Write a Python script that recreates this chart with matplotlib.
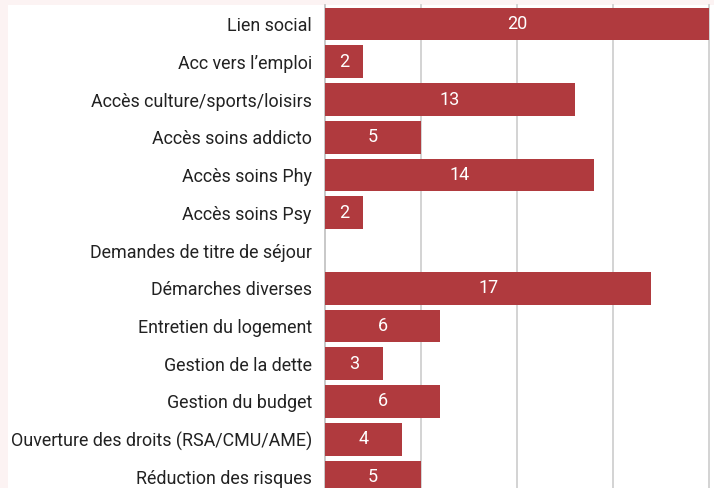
import matplotlib
matplotlib.use("Agg")
import matplotlib.pyplot as plt

categories = [
    "Lien social",
    "Acc vers l\u2019emploi",
    "Accès culture/sports/loisirs",
    "Accès soins addicto",
    "Accès soins Phy",
    "Accès soins Psy",
    "Demandes de titre de séjour",
    "Démarches diverses",
    "Entretien du logement",
    "Gestion de la dette",
    "Gestion du budget",
    "Ouverture des droits (RSA/CMU/AME)",
    "Réduction des risques",
]
counts = [20, 2, 13, 5, 14, 2, 0, 17, 6, 3, 6, 4, 5]
grid_ticks = [0, 5, 10, 15, 20]

bar_color = "#B03A3E"
edge_color = "#FCF3F3"

plt.rcParams["font.family"] = ["Roboto", "DejaVu Sans"]

W, H = 714, 488
fig = plt.figure(figsize=(W / 100, H / 100), dpi=100)
fig.patch.set_facecolor(edge_color)

# white panel inset from the top/left border
fig.add_artist(plt.Rectangle((8 / W, 0), 1, 1 - 5 / H, transform=fig.transFigure,
                             facecolor="white", edgecolor="none", zorder=0))

x0, x20 = 325, 709
ax = fig.add_axes([x0 / W, 0, (x20 - x0) / W, 1 - 5 / H])
ax.set_facecolor("none")

row = 37.75
ax.set_xlim(0, 20)
ax.set_ylim(12 + (488 - 477) / row, -(24 - 5) / row)

ypos = list(range(len(categories)))
for t in grid_ticks:
    ax.axvline(t, color="#D0D0D0" if t else "#C4C4C4", lw=1.3, zorder=1, clip_on=False)

ax.barh(ypos, counts, height=0.87, color=bar_color, zorder=2)

for y, v in zip(ypos, counts):
    if v > 0:
        ax.text(v / 2, y, str(v), ha="center", va="center", color="white",
                fontsize=13, zorder=3)

ax.set_yticks(ypos)
ax.set_yticklabels(categories, fontsize=12.9, color="#222222")
ax.tick_params(axis="y", length=0, pad=9.5)
ax.set_xticks([])
for s in ax.spines.values():
    s.set_visible(False)

fig.savefig("out.png", dpi=100, facecolor=fig.get_facecolor())
